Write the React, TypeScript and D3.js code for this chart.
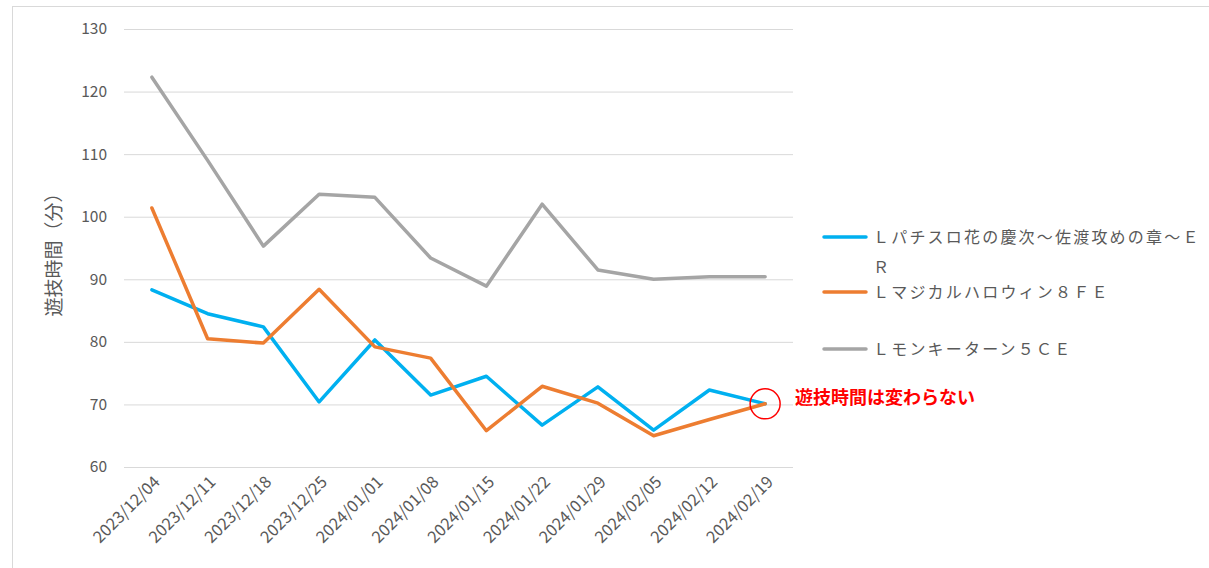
import * as React from 'react';
import * as d3 from 'd3';

const dates = [
  '2023/12/04', '2023/12/11', '2023/12/18', '2023/12/25', '2024/01/01', '2024/01/08',
  '2024/01/15', '2024/01/22', '2024/01/29', '2024/02/05', '2024/02/12', '2024/02/19',
];
const keijiER = [88.3, 84.5, 82.4, 70.4, 80.3, 71.5, 74.5, 66.7, 72.8, 65.9, 72.3, 70.1];
const halloween8FE = [101.4, 80.5, 79.8, 88.4, 79.2, 77.4, 65.8, 72.9, 70.2, 65.0, 67.6, 70.1];
const monkeyTurn5CE = [122.3, 109.0, 95.3, 103.6, 103.1, 93.4, 88.9, 102.0, 91.5, 90.0, 90.4, 90.4];
const yTicks = [60, 70, 80, 90, 100, 110, 120, 130];

const series = [
  { name: 'Ｌパチスロ花の慶次～佐渡攻めの章～ＥＲ', values: keijiER, color: '#00B0F0' },
  { name: 'Ｌマジカルハロウィン８ＦＥ', values: halloween8FE, color: '#ED7D31' },
  { name: 'Ｌモンキーターン５ＣＥ', values: monkeyTurn5CE, color: '#A5A5A5' },
];

const W = 1209;
const H = 568;
const plot = { left: 124, right: 793, top: 29, bottom: 467 };
const font = '"Noto Sans CJK JP", "Noto Sans", sans-serif';
const textColor = '#595959';

export default function App() {
  const x = d3.scaleBand<string>().domain(dates).range([plot.left, plot.right]);
  const y = d3.scaleLinear().domain([60, 130]).range([plot.bottom, plot.top]);
  const cx = (d: string) => (x(d) ?? 0) + x.bandwidth() / 2;

  const line = d3.line<number>()
    .x((_, i) => cx(dates[i]))
    .y(v => y(v));

  // legend rows: first entry wraps to two lines
  const legendY = [237, 292, 349];
  const lastDate = dates[dates.length - 1];
  const markX = cx(lastDate);
  const markY = y(keijiER[keijiER.length - 1]);

  return (
    <svg width={W} height={H} style={{ position: 'fixed', left: 0, top: 0, display: 'block', background: '#fff' }}>
      <rect x={12.5} y={6.5} width={W} height={H} fill="#fff" stroke="#D9D9D9" />

      {yTicks.map(t => (
        <g key={t}>
          <line x1={plot.left} x2={plot.right} y1={y(t) + 0.5} y2={y(t) + 0.5} stroke="#D9D9D9" strokeWidth={1} />
          <text x={107} y={y(t)} dy="0.35em" textAnchor="end" fontFamily={font} fontSize={15.5} fill={textColor}>{t}</text>
        </g>
      ))}

      <text
        transform={`translate(61,${(plot.top + plot.bottom) / 2 + 2}) rotate(-90)`}
        textAnchor="middle" fontFamily={font} fontSize={19} fill={textColor}
      >遊技時間（分）</text>

      {dates.map(d => (
        <text
          key={d}
          transform={`translate(${cx(d) + 5},${plot.bottom + 12}) rotate(-45)`}
          textAnchor="end" dy="0.35em" fontFamily={font} fontSize={16.5} fill={textColor}
        >{d}</text>
      ))}

      {series.map(s => (
        <path key={s.name} d={line(s.values) ?? ''} fill="none" stroke={s.color} strokeWidth={3.5} strokeLinejoin="round" strokeLinecap="round" />
      ))}

      <circle cx={markX} cy={markY} r={15} fill="none" stroke="#FF0000" strokeWidth={1.5} />
      <text x={795} y={markY - 6} dy="0.35em" fontFamily={font} fontSize={18} fontWeight="bold" fill="#FF0000">遊技時間は変わらない</text>

      {series.map((s, i) => (
        <g key={s.name}>
          <line x1={824} x2={866} y1={legendY[i]} y2={legendY[i]} stroke={s.color} strokeWidth={3.5} strokeLinecap="round" />
          {i === 0 ? (
            <text fontFamily={font} fontSize={16} fill={textColor} letterSpacing={2.2}>
              <tspan x={873} y={legendY[i]} dy="0.35em">{s.name.slice(0, -1)}</tspan>
              <tspan x={873} y={legendY[i] + 30} dy="0.35em">{s.name.slice(-1)}</tspan>
            </text>
          ) : (
            <text x={873} y={legendY[i]} dy="0.35em" fontFamily={font} fontSize={16} fill={textColor} letterSpacing={2.2}>{s.name}</text>
          )}
        </g>
      ))}
    </svg>
  );
}
